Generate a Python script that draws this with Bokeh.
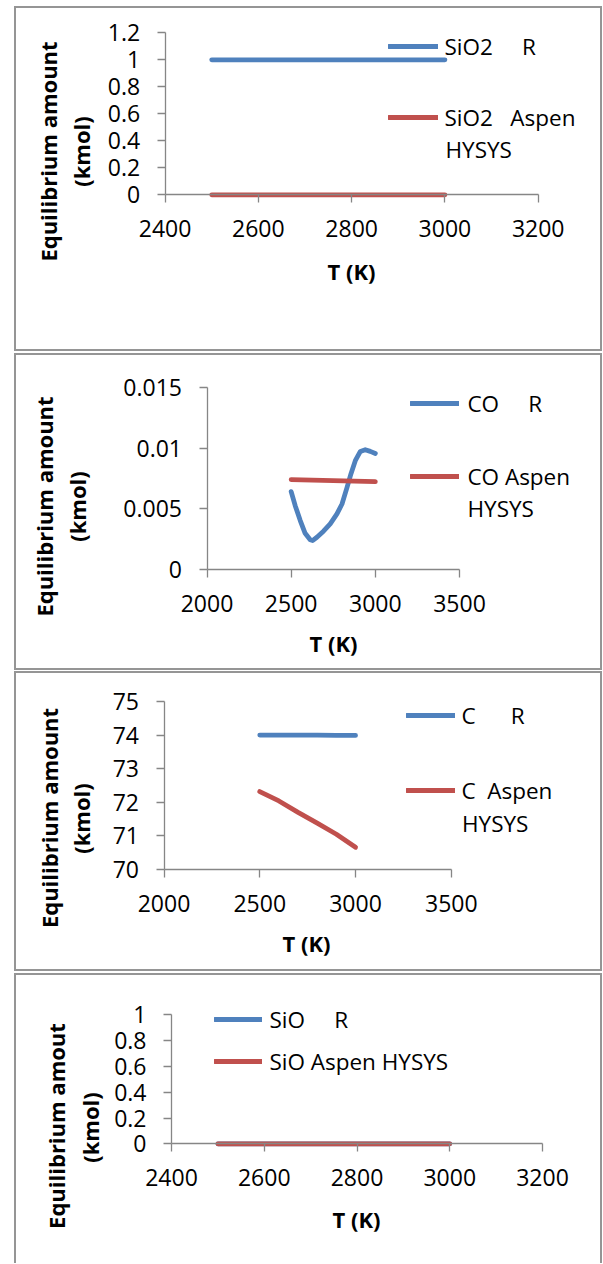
import math
from bokeh.plotting import figure
from bokeh.layouts import column
from bokeh.models import Range1d, FixedTicker, Label, Legend, LegendItem, LinearAxis
from bokeh.embed import file_html
from bokeh.resources import INLINE

# ---------------- data ----------------
t_grid = [2500, 2600, 2700, 2800, 2900, 3000]

sio2_r = [1.0, 1.0, 1.0, 1.0, 1.0, 1.0]
sio2_aspen = [0.0, 0.0, 0.0, 0.0, 0.0, 0.0]

co_r_t = [2500, 2524, 2554, 2583, 2613, 2627, 2653, 2692, 2732, 2772, 2802,
          2832, 2855, 2881, 2911, 2940, 2970, 3000]
co_r = [0.00643, 0.00527, 0.00404, 0.00299, 0.00245, 0.00239, 0.00266,
        0.00316, 0.00377, 0.00459, 0.00541, 0.00678, 0.00789, 0.00898,
        0.00975, 0.00989, 0.00975, 0.00958]
co_aspen_t = [2500, 3000]
co_aspen = [0.00742, 0.00725]

c_r = [74.0, 74.0, 74.0, 74.0, 73.99, 73.99]
c_aspen = [72.32, 72.04, 71.70, 71.38, 71.05, 70.66]

sio_r = [0.0, 0.0, 0.0, 0.0, 0.0, 0.0]
sio_aspen = [0.0, 0.0, 0.0, 0.0, 0.0, 0.0]

x_ticks_a = [2400, 2600, 2800, 3000, 3200]
x_ticks_b = [2000, 2500, 3000, 3500]
y1_ticks = [0, 0.2, 0.4, 0.6, 0.8, 1, 1.2]
y1_labels = ["0", "0.2", "0.4", "0.6", "0.8", "1", "1.2"]
y2_ticks = [0, 0.005, 0.01, 0.015]
y2_labels = ["0", "0.005", "0.01", "0.015"]
y3_ticks = [70, 71, 72, 73, 74, 75]
y3_labels = ["70", "71", "72", "73", "74", "75"]
y4_ticks = [0, 0.2, 0.4, 0.6, 0.8, 1]
y4_labels = ["0", "0.2", "0.4", "0.6", "0.8", "1"]

# ---------------- style ----------------
BLUE = "#4F81BD"
RED = "#C0504D"
AX = "#868686"
FRAME = "#959595"
FONT = "Open Sans"
FS_TICK = "23px"
FS_LEG = "22.5px"
FS_TITLE = "22px"
LW = 4.8
W = 588
HOST_LEFT = 14

SH_FULL = ("inset 2px 0 0 %s, inset -2px 0 0 %s, inset 0 2px 0 %s, inset 0 -2px 0 %s"
           % (FRAME, FRAME, FRAME, FRAME))
SH_OPEN = ("inset 2px 0 0 %s, inset -2px 0 0 %s, inset 0 2px 0 %s"
           % (FRAME, FRAME, FRAME))


def panel(cfg):
    host_top = cfg["host_top"]
    h = cfg["height"]
    host_bottom = host_top + h
    xt, yt = cfg["xt"], cfg["yt"]
    (x0px, x1px), (y0px, y1px) = cfg["xpx"], cfg["ypx"]
    sx = (xt[-1] - xt[0]) / (x1px - x0px)
    x_start = xt[0] - (x0px - HOST_LEFT) * sx
    sy = (yt[-1] - yt[0]) / (y0px - y1px)
    y_start = yt[0] - (host_bottom - y0px) * sy
    y_end = yt[0] + (y0px - host_top) * sy

    p = figure(width=W, height=h,
               x_range=Range1d(x_start, x_start + W * sx),
               y_range=Range1d(y_start, y_end),
               x_axis_location=None, y_axis_location=None,
               output_backend="svg", toolbar_location=None,
               min_border=0, min_border_left=0, min_border_right=0,
               min_border_top=0, min_border_bottom=0,
               background_fill_color=None, border_fill_color=None,
               outline_line_color=None,
               margin=(cfg["margin_top"], 0, 0, HOST_LEFT),
               styles={"box-shadow": cfg["shadow"]})
    p.xgrid.visible = False
    p.ygrid.visible = False

    xaxis = LinearAxis(fixed_location=yt[0], bounds=(xt[0], xt[-1]),
                       ticker=FixedTicker(ticks=xt))
    yaxis = LinearAxis(fixed_location=xt[0], bounds=(yt[0], yt[-1]),
                       ticker=FixedTicker(ticks=yt),
                       major_label_overrides={t: l for t, l in zip(yt, cfg["yl"])})
    for ax in (xaxis, yaxis):
        ax.axis_line_color = AX
        ax.axis_line_width = 1.3
        ax.major_tick_line_color = AX
        ax.major_tick_line_width = 1.3
        ax.major_tick_out = 8
        ax.major_tick_in = 0
        ax.minor_tick_line_color = None
        ax.major_label_text_font = FONT
        ax.major_label_text_font_size = FS_TICK
        ax.major_label_text_color = "black"
    xaxis.major_label_standoff = 17
    yaxis.major_label_standoff = 17
    p.add_layout(xaxis, "below")
    p.add_layout(yaxis, "left")

    renderers = []
    for xs, ys, col in cfg["lines"]:
        r = p.line(xs, ys, line_color=col, line_width=LW,
                   line_cap="round", line_join="round")
        renderers.append(r)

    # legend entries: (renderer index, text, seg_left, seg_right, y, text_left)
    for idx, txt, s0, s1, yy, tx in cfg["legend"]:
        gw = (s1 - s0) - LW
        leg = Legend(items=[LegendItem(label=txt, renderers=[renderers[idx]])],
                     location=(s0 + LW / 2 - HOST_LEFT, host_bottom - yy - 20),
                     glyph_width=int(round(gw)), glyph_height=40, label_height=40,
                     label_standoff=int(round(tx - (s1 - LW / 2))),
                     padding=0, margin=0, spacing=0,
                     border_line_color=None, background_fill_alpha=0,
                     label_text_font=FONT, label_text_font_size=FS_LEG,
                     label_text_color="black", label_text_baseline="middle")
        p.add_layout(leg)
    for txt, tx, yy in cfg["extra"]:
        p.add_layout(Label(x=tx - HOST_LEFT, y=host_bottom - yy,
                           x_units="screen", y_units="screen", text=txt,
                           text_font=FONT, text_font_size=FS_LEG, text_color="black",
                           text_align="left", text_baseline="middle"))
    # axis titles
    titles = [(cfg["ytitle"], cfg["ytitle_xy"], math.pi / 2),
              ("(kmol)", cfg["kmol_xy"], math.pi / 2),
              ("T (K)", cfg["xtitle_xy"], 0)]
    for txt, (cx, cy), ang in titles:
        p.add_layout(Label(x=cx - HOST_LEFT, y=host_bottom - cy,
                           x_units="screen", y_units="screen", text=txt,
                           angle=ang, text_font=FONT, text_font_size=FS_TITLE,
                           text_font_style="bold", text_color="black",
                           text_align="center", text_baseline="middle"))
    return p


p1 = panel(dict(
    host_top=6, margin_top=6, height=345,
    xpx=(164.6, 537.7), ypx=(194.3, 32.3),
    xt=x_ticks_a, yt=y1_ticks, yl=y1_labels,
    lines=[(t_grid, sio2_r, BLUE), (t_grid, sio2_aspen, RED)],
    legend=[(0, "SiO2     R", 386, 441, 46, 445),
            (1, "SiO2   Aspen", 386, 441, 117, 445)],
    extra=[("HYSYS", 445, 149)],
    ytitle="Equilibrium amount", ytitle_xy=(47.5, 151), kmol_xy=(80, 151),
    xtitle_xy=(351, 270), shadow=SH_FULL))

p2 = panel(dict(
    host_top=353, margin_top=2, height=317,
    xpx=(206.5, 459), ypx=(569, 387.3),
    xt=x_ticks_b, yt=y2_ticks, yl=y2_labels,
    lines=[(co_r_t, co_r, BLUE), (co_aspen_t, co_aspen, RED)],
    legend=[(0, "CO     R", 408, 461.5, 403, 467),
            (1, "CO Aspen", 408, 461.5, 476, 467)],
    extra=[("HYSYS", 467, 508)],
    ytitle="Equilibrium amount", ytitle_xy=(43, 506), kmol_xy=(76, 506),
    xtitle_xy=(333, 642), shadow=SH_FULL))

p3 = panel(dict(
    host_top=671, margin_top=1, height=300,
    xpx=(163.5, 450.8), ypx=(869, 701),
    xt=x_ticks_b, yt=y3_ticks, yl=y3_labels,
    lines=[(t_grid, c_r, BLUE), (t_grid, c_aspen, RED)],
    legend=[(0, "C      R", 404, 458, 715, 461.5),
            (1, "C  Aspen", 404, 458, 790, 461.5)],
    extra=[("HYSYS", 461.5, 823)],
    ytitle="Equilibrium amount", ytitle_xy=(48, 817.5), kmol_xy=(80, 818),
    xtitle_xy=(306, 942), shadow=SH_FULL))

p4 = panel(dict(
    host_top=973, margin_top=2, height=290,
    xpx=(171, 542), ypx=(1143.3, 1014.3),
    xt=x_ticks_a, yt=y4_ticks, yl=y4_labels,
    lines=[(t_grid, sio_r, BLUE), (t_grid, sio_aspen, RED)],
    legend=[(0, "SiO     R", 212, 265, 1019, 270),
            (1, "SiO Aspen HYSYS", 212, 265, 1061, 270)],
    extra=[],
    ytitle="Equilibrium amout", ytitle_xy=(55.5, 1125.5), kmol_xy=(89.5, 1127),
    xtitle_xy=(356, 1218), shadow=SH_OPEN))

layout = column(p1, p2, p3, p4)
open("out.html", "w").write(file_html(layout, INLINE))
